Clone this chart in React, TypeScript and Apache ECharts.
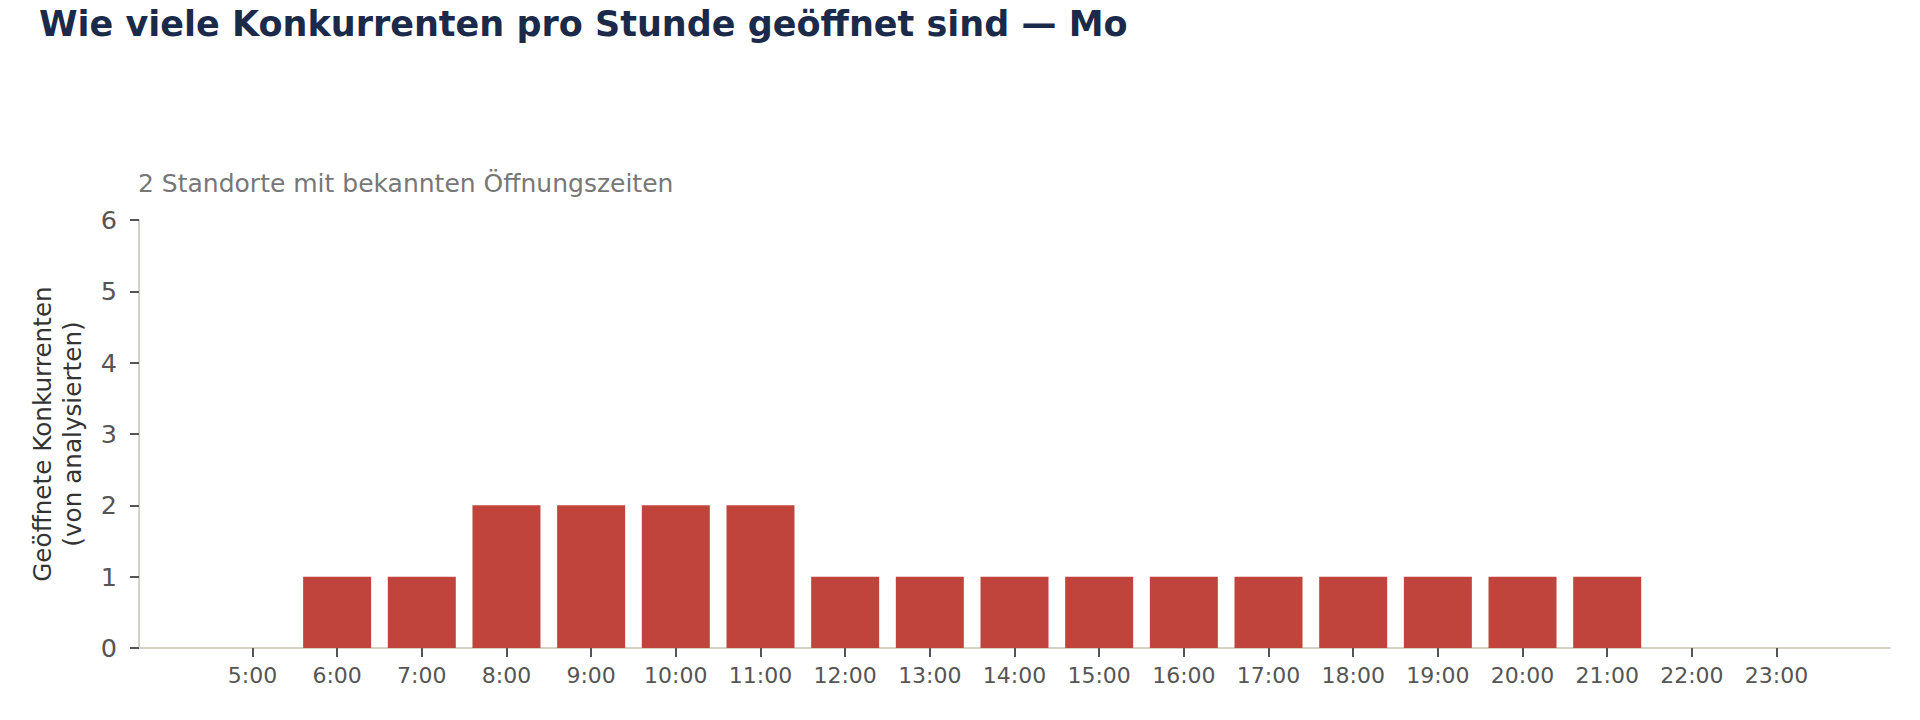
import { useEffect, useRef } from "react";
import * as echarts from "echarts";

const FONT = "DejaVu Sans";

const titleText = "Wie viele Konkurrenten pro Stunde geöffnet sind — Mo";
const subtitleText = "2 Standorte mit bekannten Öffnungszeiten";
const yAxisName = "Geöffnete Konkurrenten\n(von analysierten)";

// hours of the day shown on the x axis
const hours = [5, 6, 7, 8, 9, 10, 11, 12, 13, 14, 15, 16, 17, 18, 19, 20, 21, 22, 23];
// competitors open in each hour (Monday)
const openCounts = [0, 1, 1, 2, 2, 2, 2, 1, 1, 1, 1, 1, 1, 1, 1, 1, 1, 0, 0];
const yTicks = [0, 1, 2, 3, 4, 5, 6];

export default function App() {
  const containerRef = useRef<HTMLDivElement | null>(null);

  useEffect(() => {
    const container = containerRef.current;
    if (!container) {
      return;
    }

    const chart = echarts.init(container, undefined, { renderer: "svg" });

    const option = {
      animation: false,
      backgroundColor: "#ffffff",
      title: [
        {
          text: titleText,
          left: 34,
          top: 1,
          textStyle: {
            fontFamily: FONT,
            fontSize: 35,
            fontWeight: "bold",
            color: "#1b2a4a",
          },
        },
        {
          text: subtitleText,
          left: 133,
          top: 166,
          textStyle: {
            fontFamily: FONT,
            fontSize: 25,
            fontWeight: "normal",
            color: "#777777",
          },
        },
      ],
      grid: {
        left: 139,
        right: 30,
        top: 220,
        bottom: 72,
        containLabel: false,
      },
      xAxis: {
        type: "value",
        min: 3.66,
        max: 24.34,
        splitLine: { show: false },
        axisLine: {
          show: true,
          lineStyle: { color: "#d6d1c6", width: 2 },
        },
        axisTick: {
          show: true,
          length: 9,
          customValues: hours,
          lineStyle: { color: "#555555", width: 2 },
        },
        axisLabel: {
          customValues: hours,
          formatter: (v: number) => `${v}:00`,
          margin: 16,
          fontFamily: FONT,
          fontSize: 22,
          color: "#555555",
        },
      },
      yAxis: {
        type: "value",
        min: yTicks[0],
        max: yTicks[yTicks.length - 1],
        interval: 1,
        name: yAxisName,
        nameLocation: "middle",
        nameGap: 52,
        nameTextStyle: {
          fontFamily: FONT,
          fontSize: 24.7,
          lineHeight: 30,
          color: "#333333",
        },
        splitLine: { show: false },
        axisLine: {
          show: true,
          lineStyle: { color: "#d6d1c6", width: 2 },
        },
        axisTick: {
          show: true,
          length: 9,
          lineStyle: { color: "#555555", width: 2 },
        },
        axisLabel: {
          margin: 22,
          fontFamily: FONT,
          fontSize: 25.5,
          color: "#555555",
        },
      },
      series: [
        {
          type: "bar",
          data: hours.map((h, i) => [h, openCounts[i]]),
          barWidth: 68,
          itemStyle: { color: "#c0443c" },
        },
      ],
    };

    chart.setOption(option as any);

    return () => {
      chart.dispose();
    };
  }, []);

  return (
    <div
      ref={containerRef}
      style={{ position: "fixed", left: 0, top: 0, width: 1920, height: 720 }}
    />
  );
}
